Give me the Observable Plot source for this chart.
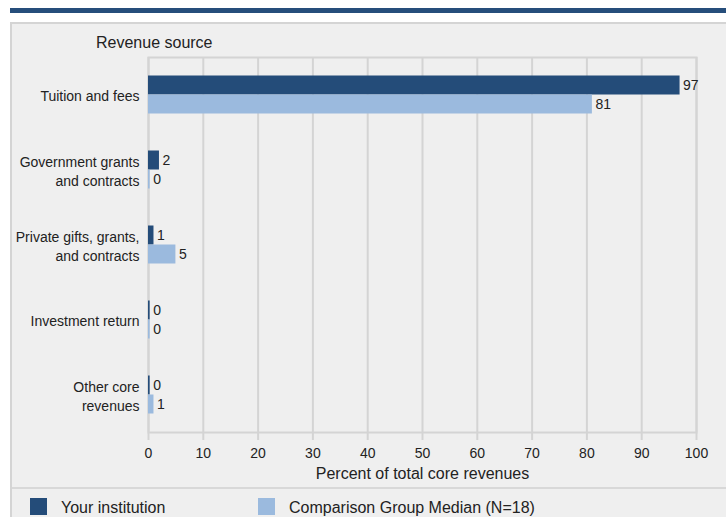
<!DOCTYPE html>
<html>
<head>
<meta charset="utf-8">
<script src="https://cdn.jsdelivr.net/npm/d3@7"></script>
<script src="https://cdn.jsdelivr.net/npm/@observablehq/plot@0.6"></script>
<style>
  html, body { margin: 0; padding: 0; background: #ffffff; overflow: hidden; }
  body { width: 726px; height: 517px; font-family: "Liberation Sans", Arial, sans-serif; color: #222; }
  #topbar { position: absolute; left: 10px; top: 8px; width: 716px; height: 5px; background: #264e7b; }
  #panel { position: absolute; left: 10px; top: 22px; width: 714px; height: 493px; background: #efefef;
           border-top: 2px solid #d4d4d4; border-left: 2px solid #d4d4d4; }
  #ytitle { position: absolute; left: 84px; top: 9px; font-size: 16px; line-height: 20px; }
  #chart { position: absolute; left: 0; top: 0; }
  #legend { position: absolute; left: 0; top: 463px; width: 714px; height: 30px; border-top: 2px solid #d8d8d8; }
  .item { position: absolute; top: 9px; height: 18px; font-size: 16px; line-height: 18px; white-space: nowrap; }
  .sw { position: absolute; top: 0px; width: 17px; height: 17px; }
  .lab { position: absolute; top: 1px; }
  svg text { font-family: "Liberation Sans", Arial, sans-serif; }
</style>
</head>
<body>
<div id="topbar"></div>
<div id="panel">
  <div id="ytitle">Revenue source</div>
  <div id="chart"></div>
  <div id="legend"></div>
</div>
<script>
const categories = [
  "Tuition and fees",
  "Government grants\nand contracts",
  "Private gifts, grants,\nand contracts",
  "Investment return",
  "Other core\nrevenues"
];
const seriesNames = ["Your institution", "Comparison Group Median (N=18)"];
const seriesColors = ["#244c79", "#9bbade"];
const institutionValues = [97, 2, 1, 0, 0];
const comparisonValues = [81, 0, 5, 0, 1];
const xTicks = [0, 10, 20, 30, 40, 50, 60, 70, 80, 90, 100];
const xTitle = "Percent of total core revenues";

const inst = categories.map((c, i) => ({category: c, value: institutionValues[i]}));
const comp = categories.map((c, i) => ({category: c, value: comparisonValues[i]}));
const minVisible = v => Math.max(v, 0.3);

const chart = Plot.plot({
  width: 714,
  height: 463,
  marginLeft: 136,
  marginRight: 30,
  marginTop: 33,
  marginBottom: 55,
  style: {background: "transparent", fontSize: "14px", color: "#222"},
  x: {domain: [0, 100], ticks: xTicks, label: null},
  y: {domain: categories, padding: 0, label: null},
  marks: [
    Plot.gridX(xTicks, {stroke: "#d4d4d4", strokeOpacity: 1, strokeWidth: 2}),
    Plot.frame({stroke: "#d4d4d4", strokeWidth: 2}),
    Plot.axisX({ticks: xTicks, tickSize: 8, tickPadding: 8, stroke: "#d4d4d4", strokeWidth: 2, fill: "#222", fontSize: 14, label: null}),
    Plot.axisY({tickSize: 0, tickPadding: 9, fontSize: 14, lineHeight: 1.36, fill: "#222", label: null}),
    Plot.barX(inst, {x1: 0, x2: d => minVisible(d.value), y: "category", fill: seriesColors[0], insetTop: 18.5, insetBottom: 37.5}),
    Plot.barX(comp, {x1: 0, x2: d => minVisible(d.value), y: "category", fill: seriesColors[1], insetTop: 37.5, insetBottom: 18.5}),
    Plot.text(inst, {x: d => minVisible(d.value), y: "category", text: d => String(d.value), dy: -9, dx: 3, textAnchor: "start", fontSize: 14, fill: "#222"}),
    Plot.text(comp, {x: d => minVisible(d.value), y: "category", text: d => String(d.value), dy: 10, dx: 3, textAnchor: "start", fontSize: 14, fill: "#222"}),
    Plot.text([xTitle], {frameAnchor: "bottom", dy: 46, fontSize: 16, fill: "#222"})
  ]
});
document.getElementById("chart").appendChild(chart);

const legend = document.getElementById("legend");
const positions = [18, 246];
seriesNames.forEach((name, i) => {
  const item = document.createElement("div");
  item.className = "item";
  item.style.left = positions[i] + "px";
  item.innerHTML = `<span class="sw" style="left:0;background:${seriesColors[i]}"></span><span class="lab" style="left:31px">${name}</span>`;
  legend.appendChild(item);
});
</script>
</body>
</html>
